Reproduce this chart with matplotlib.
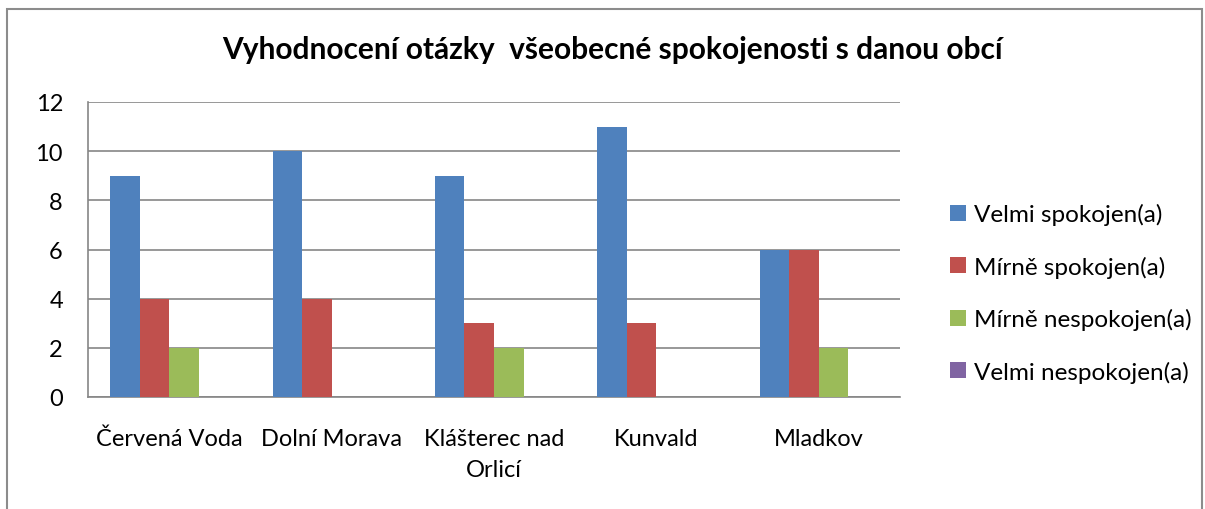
import matplotlib.pyplot as plt
import numpy as np
from matplotlib.patches import Rectangle

plt.rcParams['font.family'] = ['Lato', 'DejaVu Sans']

categories = ["Červená Voda", "Dolní Morava", "Klášterec nad\nOrlicí", "Kunvald", "Mladkov"]
series_names = ["Velmi spokojen(a)", "Mírně spokojen(a)", "Mírně nespokojen(a)", "Velmi nespokojen(a)"]
velmi_spokojen = [9, 10, 9, 11, 6]
mirne_spokojen = [4, 4, 3, 3, 6]
mirne_nespokojen = [2, 0, 2, 0, 2]
velmi_nespokojen = [0, 0, 0, 0, 0]
colors = ["#4F81BD", "#C0504D", "#9BBB59", "#8064A2"]


def main():
    fig = plt.figure(figsize=(12.05, 5.10), dpi=100)
    ax = fig.add_axes([88 / 1205, 1 - 398 / 510, (900 - 88) / 1205, (398 - 103) / 510])

    # Outer chart border
    fig.patches.append(Rectangle((7 / 1205, -0.01), (1202 - 7) / 1205, 1 - 10 / 510 + 0.01,
                                 transform=fig.transFigure, fill=False,
                                 edgecolor="#8C8C8C", linewidth=1.5))

    data = [velmi_spokojen, mirne_spokojen, mirne_nespokojen, velmi_nespokojen]
    x = np.arange(len(categories))
    w = 1 / 5.5
    for i, (vals, name) in enumerate(zip(data, series_names)):
        ax.bar(x - 1.5 * w + i * w, vals, width=w, color=colors[i], label=name, zorder=3)

    ax.set_xlim(-0.5, len(categories) - 0.5)
    ax.set_ylim(0, 12)
    ax.set_yticks(range(0, 13, 2))
    ax.yaxis.grid(True, color="#868686", linewidth=1.2, zorder=0)
    ax.set_xticks(x)
    ax.set_xticklabels(categories, fontsize=17, linespacing=1.6)
    ax.tick_params(axis="y", labelsize=17, length=0, pad=18)
    ax.tick_params(axis="x", length=0, pad=22)
    for s in ["top", "right"]:
        ax.spines[s].set_visible(False)
    for s in ["left", "bottom"]:
        ax.spines[s].set_color("#868686")
        ax.spines[s].set_linewidth(1.2)

    fig.text(612 / 1205, 1 - 50 / 510, "Vyhodnocení otázky  všeobecné spokojenosti s danou obcí",
             ha="center", va="center", fontsize=21.5, fontweight="bold")

    ax.legend(loc="center left", bbox_to_anchor=(928 / 1205, 1 - 294 / 510),
              bbox_transform=fig.transFigure, frameon=False, fontsize=17.5,
              handlelength=0.65, handleheight=0.65, handletextpad=0.35, labelspacing=1.25)

    fig.savefig("out.png", dpi=100)


if __name__ == "__main__":
    main()
